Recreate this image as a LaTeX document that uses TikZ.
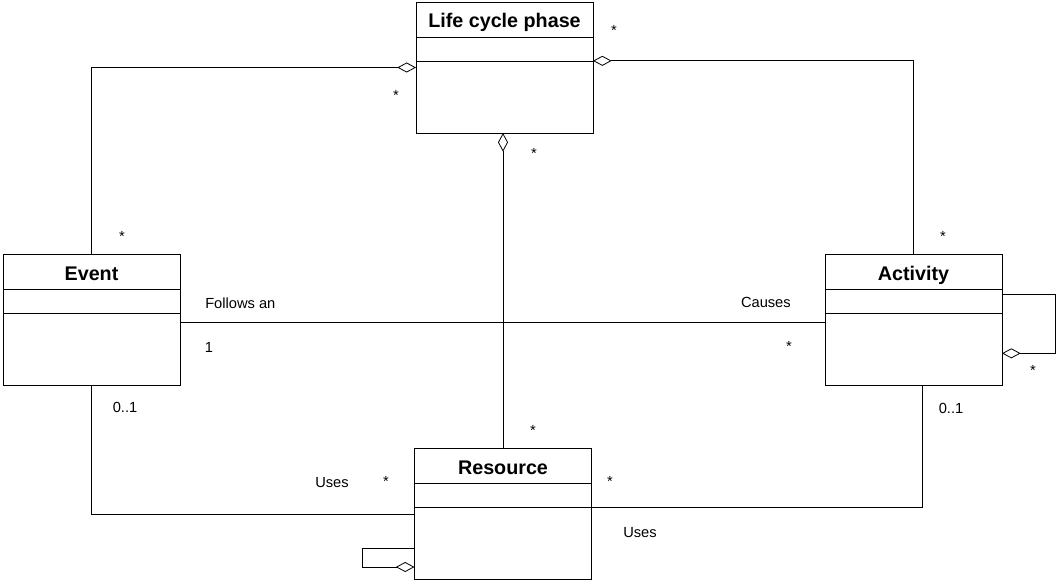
\documentclass[tikz,border=0pt]{standalone}
\usepackage{fontspec}
\setmainfont{Liberation Sans}
\usepackage{tikz}
\usetikzlibrary{arrows.meta,calc}

\begin{document}
\begin{tikzpicture}[
    x=0.75pt,y=-0.75pt,
    every node/.style={font=\fontsize{11}{13}\selectfont},
    cls/.style={draw,minimum width=132.75pt,minimum height=98.25pt,
                inner sep=0pt,outer sep=0pt,line width=0.6pt},
    ttl/.style={font=\fontsize{14.8}{16}\selectfont\bfseries,anchor=base,inner sep=0pt},
    lbl/.style={anchor=base,inner sep=0pt},
    lnk/.style={line width=0.6pt},
    agg/.style={lnk,-{Diamond[open,length=14pt,width=7.5pt]}},
  ]
  \useasboundingbox (0,0) rectangle (1056,581);

  % classes: name / centre / title
  \foreach \nm/\cx/\cy/\ttl in {lcp/504.5/67.5/Life cycle phase,
      ev/91.5/319.5/Event, act/913.5/320/Activity, res/503/514/Resource}{
    \node[cls] (\nm) at (\cx,\cy) {};
    \node[ttl] (\nm-t) at ([yshift=-19.5pt]\nm.north) {\ttl};
    \draw[lnk] ([yshift=-26.25pt]\nm.north west) -- ([yshift=-26.25pt]\nm.north east);
    \draw[lnk] ([yshift=-44.25pt]\nm.north west) -- ([yshift=-44.25pt]\nm.north east);
  }

  % aggregations
  \draw[agg] (ev.north) |- (lcp.west);
  \draw[agg] (act.north) |- ([yshift=5pt]lcp.east);
  \draw[agg] (res.north) -- (res.north |- lcp.south);
  \draw[agg] ([yshift=19pt]act.east) -- ++(40pt,0) |- ([yshift=-25pt]act.east);
  \draw[agg] ([yshift=-25.5pt]res.west) -- ++(-39pt,0) |- ([yshift=-39.75pt]res.west);

  % associations
  \draw[lnk] ([yshift=-1.8pt]ev.east) -- ([yshift=-1.8pt]ev.east -| act.west);
  \draw[lnk] (ev.south) |- (res.west);
  \draw[lnk] ([xshift=7pt]act.south) |- ([yshift=5pt]res.east);

  % multiplicities
  \node[lbl] (m-lcp-r) at (614,36) {*};
  \node[lbl] (m-lcp-l) at (396,101) {*};
  \node[lbl] (m-lcp-b) at (534,159) {*};
  \node[lbl] (m-ev-t) at (122,241) {*};
  \node[lbl] (m-act-t) at (943,241) {*};
  \node[lbl] (m-act-l) at (789,351) {*};
  \node[lbl] (m-act-s) at (1033,375) {*};
  \node[lbl] (m-res-t) at (533,435) {*};
  \node[lbl] (m-res-l) at (386,486) {*};
  \node[lbl] (m-res-r) at (610,486) {*};
  \node[lbl] (m-ev-r) at (209,352) {1};
  \node[lbl] (m-ev-b) at (125,412) {0..1};
  \node[lbl] (m-act-b) at (951,413) {0..1};

  % role names
  \node[lbl,anchor=base west] (follows) at (205,308) {Follows an};
  \node[lbl,anchor=base east] (causes) at (791,307) {Causes};
  \node[lbl] (uses-l) at (332,487) {Uses};
  \node[lbl] (uses-r) at (640,537) {Uses};
\end{tikzpicture}
\end{document}
